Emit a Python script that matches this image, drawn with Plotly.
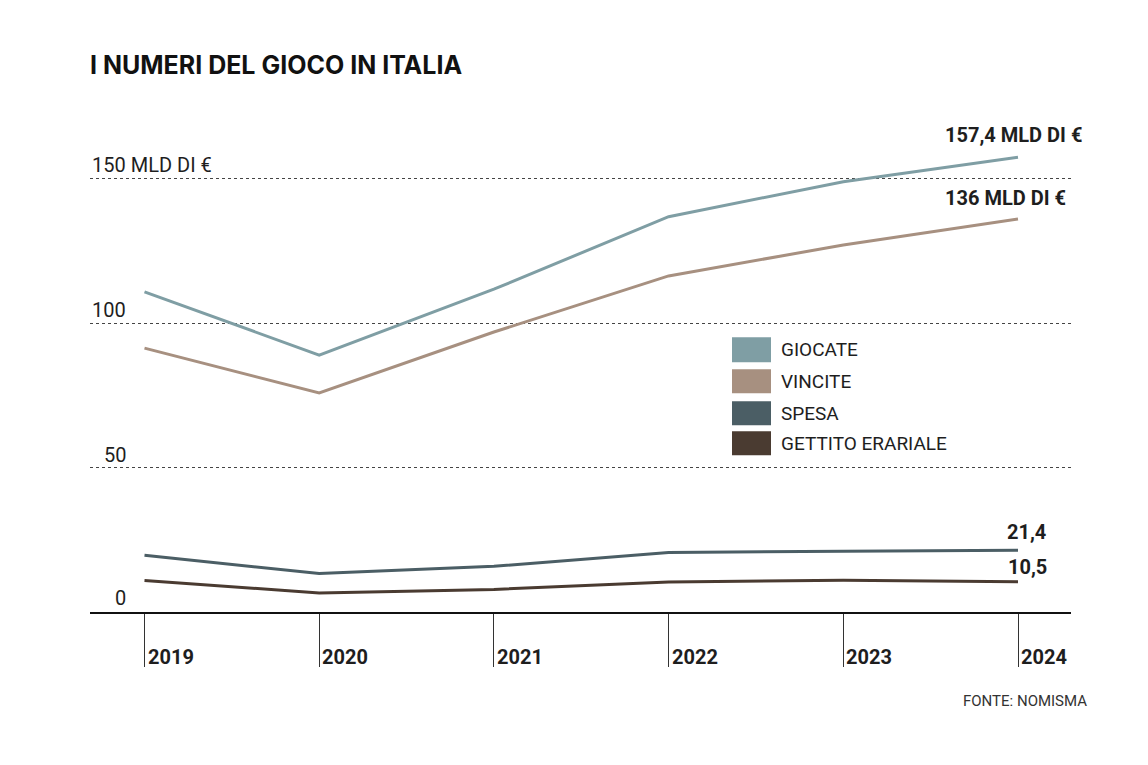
import plotly.graph_objects as go

# ---- data ----
years = [2019, 2020, 2021, 2022, 2023, 2024]
giocate = [110.8, 88.9, 111.7, 136.8, 148.9, 157.4]
vincite = [91.3, 75.8, 96.9, 116.3, 127.0, 136.0]
spesa = [19.6, 13.3, 15.8, 20.6, 21.0, 21.4]
gettito = [10.9, 6.6, 7.8, 10.4, 11.0, 10.5]
series_names = ["GIOCATE", "VINCITE", "SPESA", "GETTITO ERARIALE"]
colors = ["#7f9ea4", "#a79080", "#4b5e65", "#4a3b31"]
y_ticks = [50, 100, 150]
y_tick_labels = ["50", "100", "150 MLD DI €"]
end_labels = ["157,4 MLD DI €", "136 MLD DI €", "21,4", "10,5"]

# ---- layout geometry (pixels) ----
W, H = 1148, 765
L, R = 90, 1071
TOP, BOT = 110, 611.7
PPU = 2.888
ymax = (BOT - TOP) / PPU
x0 = 2019 - (144.5 - L) / 174.7
x1 = 2024 + (R - 1018) / 174.7

def px(X):
    return (X - L) / (R - L)

def py(Y):
    return (BOT - Y) / (BOT - TOP)

FONT = "Roboto"
TXT = "#1e1e1e"

fig = go.Figure()
for name, vals, c in zip(series_names, [giocate, vincite, spesa, gettito], colors):
    fig.add_trace(go.Scatter(x=years, y=vals, mode="lines", name=name,
                             line=dict(color=c, width=3), showlegend=False,
                             cliponaxis=False))

annotations = []
# title
annotations.append(dict(text="<b>I NUMERI DEL GIOCO IN ITALIA</b>", xref="paper", yref="paper",
                        x=px(88), y=py(65), xanchor="left", yanchor="middle", showarrow=False,
                        font=dict(family="Inter", size=25, color="#111", weight=900)))
# y labels
for v, lab in zip(y_ticks, y_tick_labels):
    if lab.startswith("150"):
        annotations.append(dict(text=lab, xref="paper", yref="y", x=px(90), y=v, yshift=14,
                                xanchor="left", yanchor="middle", showarrow=False,
                                font=dict(family=FONT, size=20, color=TXT)))
    else:
        annotations.append(dict(text=lab, xref="paper", yref="y", x=px(128), y=v, yshift=13,
                                xanchor="right", yanchor="middle", showarrow=False,
                                font=dict(family=FONT, size=20, color=TXT)))
annotations.append(dict(text="0", xref="paper", yref="y", x=px(128), y=0, yshift=14,
                        xanchor="right", yanchor="middle", showarrow=False,
                        font=dict(family=FONT, size=20, color=TXT)))
# x tick labels
for yr in years:
    annotations.append(dict(text="<b>%d</b>" % yr, xref="x", yref="paper", x=yr, xshift=1,
                            y=py(657), xanchor="left", yanchor="middle", showarrow=False,
                            font=dict(family=FONT, size=20, color=TXT)))
# end labels
end_pos = [(1084, 135), (1068, 198), (1048, 532), (1049, 567)]
for lab, (X, Y) in zip(end_labels, end_pos):
    annotations.append(dict(text="<b>%s</b>" % lab, xref="paper", yref="paper",
                            x=px(X), y=py(Y), xanchor="right", yanchor="middle", showarrow=False,
                            font=dict(family=FONT, size=20, color=TXT)))
# source
annotations.append(dict(text="FONTE: NOMISMA", xref="paper", yref="paper", x=px(1089), y=py(701),
                        xanchor="right", yanchor="middle", showarrow=False,
                        font=dict(family=FONT, size=15, color="#333")))

# legend
shapes = []
rows = [(337, 362), (369, 393), (401, 425), (431, 455)]
for name, c, (ya, yb) in zip(series_names, colors, rows):
    shapes.append(dict(type="rect", xref="paper", yref="paper", x0=px(732), x1=px(771),
                       y0=py(yb), y1=py(ya), fillcolor=c, line=dict(width=0)))
    annotations.append(dict(text=name, xref="paper", yref="paper", x=px(779), y=py((ya + yb) / 2),
                            xanchor="left", yanchor="middle", showarrow=False,
                            font=dict(family=FONT, size=19, color=TXT)))

fig.update_layout(
    width=W, height=H,
    margin=dict(l=L, r=W - R, t=TOP, b=H - BOT),
    paper_bgcolor="white", plot_bgcolor="white",
    annotations=annotations, shapes=shapes,
    xaxis=dict(range=[x0, x1], showgrid=False, zeroline=False, showline=True,
               linecolor="#111", linewidth=1.5, ticks="outside", ticklen=53,
               tickcolor="#333", tickwidth=1, tickvals=years, showticklabels=False),
    yaxis=dict(range=[0, ymax], showgrid=True, tickvals=y_ticks, griddash="dot",
               gridcolor="#444", gridwidth=1, zeroline=False, showline=False,
               showticklabels=False),
)

fig.write_html("out.html")
